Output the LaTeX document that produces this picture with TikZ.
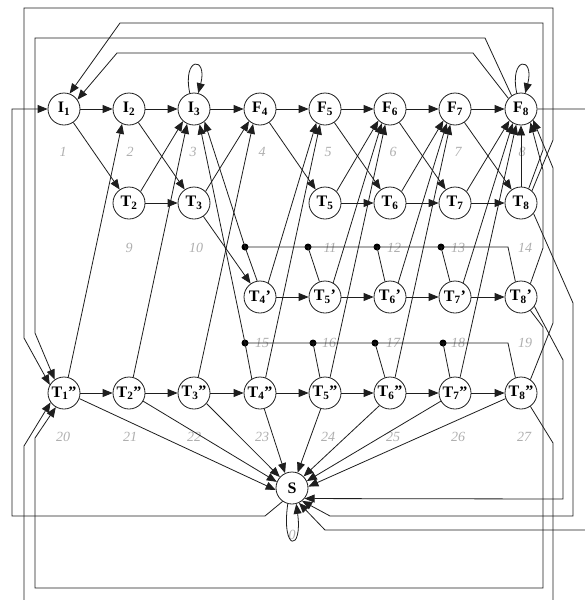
\documentclass[tikz,border=0pt]{standalone}
\usepackage{fontspec}
\setmainfont{Liberation Serif}
\usetikzlibrary{arrows.meta}
\definecolor{linecol}{RGB}{30,30,30}
\definecolor{numgray}{RGB}{175,175,175}
\begin{document}
\begin{tikzpicture}[x=1pt,y=-1pt,
  state/.style={circle,draw=linecol,line width=0.8pt,minimum size=32pt,inner sep=0pt,
    font=\bfseries\fontsize{16}{16}\selectfont},
  num/.style={font=\itshape\fontsize{14}{14}\selectfont,text=numgray,inner sep=0pt},
  wire/.style={draw=linecol,line width=0.8pt},
  arr/.style={wire,-{Triangle[length=10pt,width=8pt]}},
  junction/.style={circle,fill=black,inner sep=0pt,minimum size=7pt},
]
\useasboundingbox (0,0) rectangle (584,600);
\fill[white] (0,0) rectangle (584,600);

% states, row 1
\node[state] (I1) at (64,109) {I\textsubscript{1}};
\node[state] (I2) at (129,109) {I\textsubscript{2}};
\node[state] (I3) at (194,109) {I\textsubscript{3}};
\node[state] (F4) at (260,109) {F\textsubscript{4}};
\node[state] (F5) at (325,109) {F\textsubscript{5}};
\node[state] (F6) at (390,109) {F\textsubscript{6}};
\node[state] (F7) at (455,109) {F\textsubscript{7}};
\node[state] (F8) at (521,109) {F\textsubscript{8}};
% row 2
\node[state] (T2) at (129,203) {T\textsubscript{2}};
\node[state] (T3) at (194,203) {T\textsubscript{3}};
\node[state] (T5) at (325,203) {T\textsubscript{5}};
\node[state] (T6) at (390,203) {T\textsubscript{6}};
\node[state] (T7) at (455,203) {T\textsubscript{7}};
\node[state] (T8) at (521,203) {T\textsubscript{8}};
% row 3
\node[state] (Ta4) at (260,297) {T\textsubscript{4}'};
\node[state] (Ta5) at (325,297) {T\textsubscript{5}'};
\node[state] (Ta6) at (390,297) {T\textsubscript{6}'};
\node[state] (Ta7) at (455,297) {T\textsubscript{7}'};
\node[state] (Ta8) at (521,297) {T\textsubscript{8}'};
% row 4
\node[state] (Tb1) at (64,393) {T\textsubscript{1}''};
\node[state] (Tb2) at (129,393) {T\textsubscript{2}''};
\node[state] (Tb3) at (194,393) {T\textsubscript{3}''};
\node[state] (Tb4) at (260,393) {T\textsubscript{4}''};
\node[state] (Tb5) at (325,393) {T\textsubscript{5}''};
\node[state] (Tb6) at (390,393) {T\textsubscript{6}''};
\node[state] (Tb7) at (455,393) {T\textsubscript{7}''};
\node[state] (Tb8) at (521,393) {T\textsubscript{8}''};
% sink
\node[state] (S) at (292,488) {S};

% state numbers
\foreach \n/\x/\y in {1/63/152,2/130/152,3/193/152,4/262/152,5/328/152,6/393/152,7/458/152,8/522/152,
  9/129/248,10/196/248,11/330/248,12/394/248,13/458/248,14/525/248,
  15/262/343,16/329/343,17/393/343,18/458/343,19/525/343,
  20/63/437,21/130/437,22/194/437,23/262/437,24/328/437,25/393/437,26/458/437,27/524/437,
  0/292/535}
  \node[num] (n\n) at (\x,\y) {\n};

% forward chains
\foreach \a/\b in {I1/I2,I2/I3,I3/F4,F4/F5,F5/F6,F6/F7,F7/F8,
  T2/T3,T5/T6,T6/T7,T7/T8,
  Ta4/Ta5,Ta5/Ta6,Ta6/Ta7,Ta7/Ta8,
  Tb1/Tb2,Tb2/Tb3,Tb3/Tb4,Tb4/Tb5,Tb5/Tb6,Tb6/Tb7,Tb7/Tb8}
  \draw[arr] (\a) -- (\b);

% downward diagonals
\foreach \a/\b in {I1/T2,I2/T3,F4/T5,F5/T6,F6/T7,F7/T8,T3/Ta4}
  \draw[arr] (\a) -- (\b);

% upward diagonals
\draw[arr] (Tb1.75) -- (I2.245);
\draw[arr] (T2.45) -- (I3.228);
\draw[arr] (Tb2.75) -- (I3.245);
\draw[arr] (T3.45) -- (F4.228);
\draw[arr] (Tb3.75) -- (F4.245);
\draw[arr] (Ta4.60) -- (F5.238);
\draw[arr] (Tb4.70) -- (F5.252);
\draw[arr] (T5.45) -- (F6.225);
\draw[arr] (Ta5.60) -- (F6.240);
\draw[arr] (Tb5.72) -- (F6.253);
\draw[arr] (T6.45) -- (F7.225);
\draw[arr] (Ta6.60) -- (F7.240);
\draw[arr] (Tb6.72) -- (F7.253);
\draw[arr] (T7.45) -- (F8.225);
\draw[arr] (Ta7.60) -- (F8.240);
\draw[arr] (Tb7.72) -- (F8.253);
\draw[arr] (T8) -- (F8);

% self loops
\draw[arr] (I3.105) .. controls (182,56) and (208,56) .. (I3.75);
\draw[arr] (F8.105) .. controls (509,56) and (535,56) .. (F8.75);
\draw[arr] (S.255) .. controls (281,552) and (303,552) .. (S.285);

% upper return bus
\node[junction] (u4) at (245,247) {};
\node[junction] (u5) at (308,247) {};
\node[junction] (u6) at (377,247) {};
\node[junction] (u7) at (441,247) {};
\draw[wire] (u4.center) -- (508,247) -- (Ta8.110);
\draw[wire] (u5.center) -- (Ta5.110);
\draw[wire] (u6.center) -- (Ta6.108);
\draw[wire] (u7.center) -- (Ta7.108);
\draw[arr] (Ta4.100) -- (u4.center) -- (I3.310);

% lower return bus
\node[junction] (l4) at (245,343) {};
\node[junction] (l5) at (313,343) {};
\node[junction] (l6) at (375,343) {};
\node[junction] (l7) at (443,343) {};
\draw[wire] (l4.center) -- (508,343) -- (Tb8.110);
\draw[wire] (l5.center) -- (Tb5.108);
\draw[wire] (l6.center) -- (Tb6.108);
\draw[wire] (l7.center) -- (Tb7.108);
\draw[arr] (Tb4.120) -- (l4.center) -- (I3.290);

% edges into the sink
\draw[arr] (Tb1.-20) -- (S.187);
\draw[arr] (Tb2.-30) -- (S.158);
\draw[arr] (Tb3.-40) -- (S.138);
\draw[arr] (Tb4.-75) -- (S.115);
\draw[arr] (Tb5.-105) -- (S.70);
\draw[arr] (Tb6.-130) -- (S.45);
\draw[arr] (Tb7.-150) -- (S.25);
\draw[arr] (Tb8.-160) -- (S.5);

% long routes on the right
\draw[arr] (T8.62) -- (543,150) -- (543,23) -- (120,23) -- (I1.70);
\draw[arr] (T8.48) -- (553,140) -- (553,8) -- (24,8) -- (24,338) -- (Tb1.150);
\draw[arr] (Ta8.55) -- (543,248) -- (543,170) -- (F8.305);
\draw[arr] (Tb8.55) -- (553,323) -- (553,168) -- (F8.318);
\draw[arr] (T8.-40) -- (573,303) -- (573,516) -- (330,516) -- (S.-52);
\draw[arr] (Ta8.-35) -- (563,360) -- (563,499) -- (S.-40);
\draw[arr] (Ta8.-55) -- (543,327) -- (543,588) -- (35,588) -- (35,438) -- (Tb1.240);
\draw[arr] (Tb8.-55) -- (553,443) -- (553,620) -- (24,620) -- (24,446) -- (Tb1.215);
\draw[arr] (F8.125) -- (485,38) -- (35,38) -- (35,333) -- (Tb1.125);
\draw[arr] (F8.140) -- (473,53) -- (117,53) -- (I1.35);
\draw[arr] (F8.east) -- (600,109) -- (600,530) -- (325,530) -- (S.-65);
\draw[arr] (S.235) -- (265,516) -- (12,516) -- (12,109) -- (I1.west);
\end{tikzpicture}
\end{document}
